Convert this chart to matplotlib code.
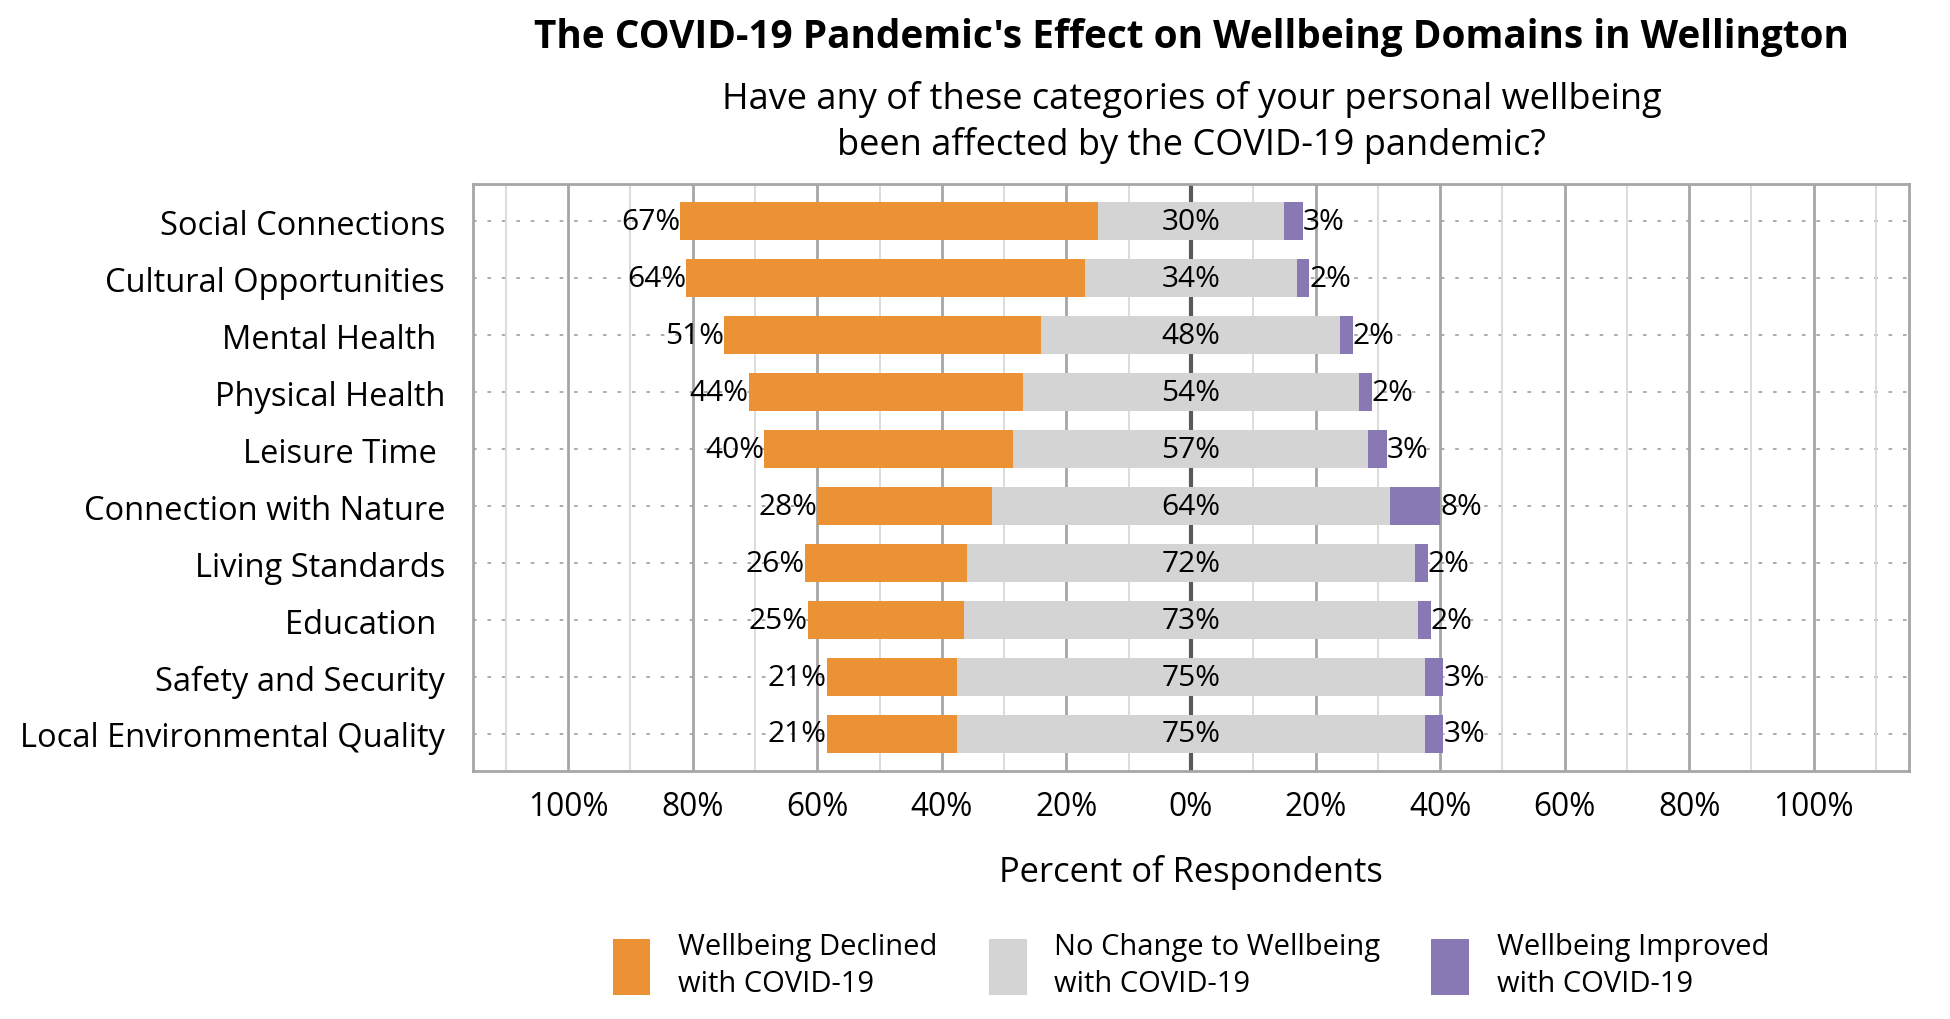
import numpy as np
import matplotlib
matplotlib.use("Agg")
import matplotlib.pyplot as plt
from matplotlib.ticker import MultipleLocator

plt.rcParams['font.family'] = ['Open Sans', 'DejaVu Sans']

##### Data ########
categories = ["Social Connections", "Cultural Opportunities", "Mental Health ",
              "Physical Health", "Leisure Time ", "Connection with Nature",
              "Living Standards", "Education ", "Safety and Security",
              "Local Environmental Quality"]
declined = [67, 64, 51, 44, 40, 28, 26, 25, 21, 21]
no_change = [30, 34, 48, 54, 57, 64, 72, 73, 75, 75]
improved = [3, 2, 2, 2, 3, 8, 2, 2, 3, 3]
series_names = ["Wellbeing Declined\nwith COVID-19",
                "No Change to Wellbeing\nwith COVID-19",
                "Wellbeing Improved\nwith COVID-19"]
tick_values = [-100, -80, -60, -40, -20, 0, 20, 40, 60, 80, 100]

c_dec = "#EB9334"
c_nc = "#D4D4D4"
c_imp = "#8879B5"

fig = plt.figure(figsize=(19.5, 10.2), dpi=100)
ax = fig.add_axes([0.2425, 0.2431, 0.9790 - 0.2425, 0.8186 - 0.2431])

y = np.arange(len(categories))
dec = np.array(declined)
nc = np.array(no_change)
imp = np.array(improved)
h = 0.68

ax.barh(y, nc, left=-nc / 2, height=h, color=c_nc, label=series_names[1], zorder=3)
ax.barh(y, dec, left=-nc / 2 - dec, height=h, color=c_dec, label=series_names[0], zorder=3)
ax.barh(y, imp, left=nc / 2, height=h, color=c_imp, label=series_names[2], zorder=3)

# labels
fs_val = 21.5
for i in range(len(categories)):
    ax.text(-nc[i] / 2 - dec[i], y[i], f"{dec[i]}%", ha="right", va="center",
            fontsize=fs_val, zorder=4)
    ax.text(0, y[i], f"{nc[i]}%", ha="center", va="center", fontsize=fs_val, zorder=4)
    ax.text(nc[i] / 2 + imp[i], y[i], f"{imp[i]}%", ha="left", va="center",
            fontsize=fs_val, zorder=4)

ax.set_xlim(-115.3, 115.3)
ax.set_ylim(len(categories) - 0.5 + 0.15, -0.5 - 0.15)
ax.set_yticks(y)
ax.set_yticklabels(categories, fontsize=23.5)
ax.set_xticks(tick_values)
ax.set_xticklabels([f"{abs(v)}%" for v in tick_values], fontsize=22.8)
ax.xaxis.set_minor_locator(MultipleLocator(10))
ax.tick_params(axis="both", length=0, which="both")
ax.tick_params(axis="x", pad=14)
ax.tick_params(axis="y", pad=20)

# grid
ax.grid(axis="x", which="minor", color="#D9D9D9", linewidth=1.3, zorder=0)
ax.grid(axis="x", which="major", color="#A6A6A6", linewidth=2, zorder=1)
ax.axvline(0, color="#595959", linewidth=3, zorder=2)
for yy in y:
    ax.axhline(yy, color="#A6A6A6", linewidth=1.3, linestyle=(0, (2, 6)), zorder=1)

for s in ax.spines.values():
    s.set_color("#A6A6A6")
    s.set_linewidth(2)

ax.set_xlabel("Percent of Respondents", fontsize=24.8, labelpad=22)

fig.text(0.611, 0.963, "The COVID-19 Pandemic's Effect on Wellbeing Domains in Wellington",
         ha="center", va="center", fontsize=27.9, fontweight="bold")
fig.text(0.611, 0.880, "Have any of these categories of your personal wellbeing\nbeen affected by the COVID-19 pandemic?",
         ha="center", va="center", fontsize=26, linespacing=1.32)

handles, labels = ax.get_legend_handles_labels()
order = [1, 0, 2]
leg = ax.legend([handles[k] for k in order], [labels[k] for k in order],
                loc="center", bbox_to_anchor=(0.5, -0.33), ncol=3, frameon=False,
                fontsize=21, handlelength=1.3, handleheight=2.6, handletextpad=0.95,
                columnspacing=1.75, labelspacing=0.3)
for t in leg.get_texts():
    t.set_linespacing(1.35)

plt.savefig("out.png", dpi=100)
